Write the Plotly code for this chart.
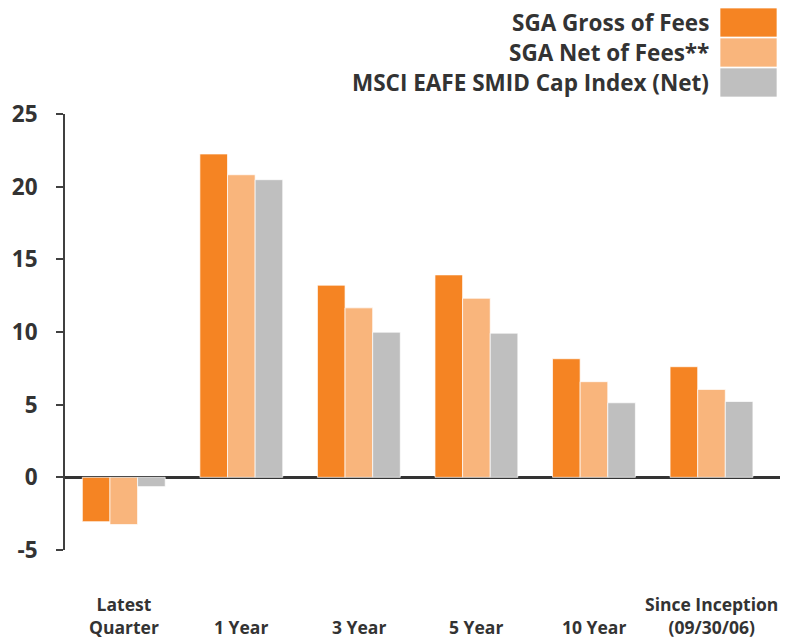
import plotly.graph_objects as go

# Annualized returns (%) by period
categories = ["Latest Quarter", "1 Year", "3 Year", "5 Year", "10 Year", "Since Inception"]
category_labels = ["Latest<br>Quarter", "1 Year", "3 Year", "5 Year", "10 Year",
                   "Since Inception<br>(09/30/06)"]
series_names = ["SGA Gross of Fees", "SGA Net of Fees**", "MSCI EAFE SMID Cap Index (Net)"]
gross = [-3.05, 22.25, 13.22, 13.93, 8.16, 7.61]
net = [-3.25, 20.82, 11.66, 12.32, 6.58, 6.05]
index_net = [-0.64, 20.48, 9.99, 9.92, 5.13, 5.22]
y_ticks = [-5, 0, 5, 10, 15, 20, 25]

colors = ["#F58423", "#F9B57C", "#BFBFBF"]
text_color = "#333333"
font_family = "Open Sans"

W, H = 802, 639
M_L, M_R, M_T, M_B = 65, 22, 114, 89
plot_w = W - M_L - M_R
plot_h = H - M_T - M_B


def px_x(px):
    return (px - M_L) / plot_w


def px_y(py):
    return (H - M_B - py) / plot_h


fig = go.Figure()
for name, vals, col in zip(series_names, [gross, net, index_net], colors):
    fig.add_trace(go.Bar(
        x=categories, y=vals, name=name,
        marker=dict(color=col, line=dict(color="rgba(255,255,255,0.7)", width=1)),
        showlegend=False,
    ))

# Category labels, bottom-aligned below the plot
for cat, lab in zip(categories, category_labels):
    fig.add_annotation(
        x=cat, xref="x", y=px_y(641), yref="paper",
        text=lab, showarrow=False, xanchor="center", yanchor="bottom",
        font=dict(family=font_family, size=17.5, color=text_color, weight="bold"),
        align="center",
    )

# Legend: right-aligned text with swatches on the right
row_tops = [8, 38, 68]
row_h = 29
for name, col, top in zip(series_names, colors, row_tops):
    fig.add_shape(
        type="rect", xref="paper", yref="paper",
        x0=px_x(720), x1=px_x(777), y0=px_y(top + row_h), y1=px_y(top),
        fillcolor=col, line=dict(color="rgba(255,255,255,0.7)", width=1),
    )
    fig.add_annotation(
        x=px_x(711), xref="paper", y=px_y(top + row_h / 2), yref="paper",
        text=name, showarrow=False, xanchor="right", yanchor="middle",
        font=dict(family=font_family, size=22.5, color=text_color, weight="bold"),
    )

fig.update_layout(
    width=W, height=H,
    margin=dict(l=M_L, r=M_R, t=M_T, b=M_B, autoexpand=False),
    paper_bgcolor="white", plot_bgcolor="white",
    barmode="group", bargap=0.295, bargroupgap=0,
    font=dict(family=font_family, color=text_color),
)
fig.update_xaxes(
    showticklabels=False, showgrid=False, showline=False, ticks="", zeroline=False,
    automargin=False,
)
fig.update_yaxes(
    range=[-5, 25], tickvals=y_ticks, ticktext=[str(v) for v in y_ticks],
    showgrid=False, showline=True, linecolor="#404040", linewidth=2,
    ticks="outside", ticklen=7, tickwidth=2, tickcolor="#404040",
    ticklabelstandoff=14, automargin=False,
    zeroline=True, zerolinecolor="#333333", zerolinewidth=2.5,
    tickfont=dict(family=font_family, size=22.5, color=text_color, weight="bold"),
)

fig.write_html("out.html")
